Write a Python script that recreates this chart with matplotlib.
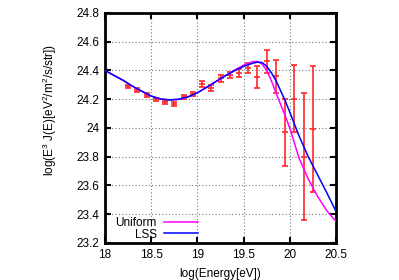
import numpy as np
import matplotlib
matplotlib.use("Agg")
import matplotlib.pyplot as plt
from matplotlib.ticker import FormatStrFormatter, MultipleLocator

plt.rcParams['font.family'] = ['Liberation Sans', 'DejaVu Sans']
plt.rcParams['mathtext.fontset'] = 'custom'
plt.rcParams['mathtext.rm'] = 'Liberation Sans'

# measured spectrum (log E, log E^3 J, error)
data_x = [18.25, 18.35, 18.45, 18.55, 18.65, 18.75, 18.85, 18.95, 19.05, 19.15,
          19.25, 19.35, 19.45, 19.55, 19.65, 19.75, 19.85, 19.95, 20.05, 20.15, 20.25]
data_y = [24.29, 24.265, 24.23, 24.2, 24.178, 24.165, 24.215, 24.235, 24.305, 24.28,
          24.345, 24.37, 24.385, 24.42, 24.355, 24.465, 24.36, 23.97, 24.205, 23.80, 23.99]
data_err = [0.012, 0.012, 0.012, 0.012, 0.012, 0.014, 0.014, 0.015, 0.022, 0.02,
            0.022, 0.022, 0.028, 0.035, 0.075, 0.08, 0.114, 0.232, 0.23, 0.44, 0.438]

# model curves
curve_x = [18.0, 18.1, 18.2, 18.3, 18.4, 18.5, 18.6, 18.7, 18.8, 18.9, 19.0, 19.1,
           19.2, 19.3, 19.4, 19.5, 19.6, 19.65, 19.7, 19.75, 19.8, 19.85, 19.9,
           19.95, 20.0, 20.1, 20.2, 20.3, 20.4, 20.5]
uniform_y = [24.40, 24.365, 24.33, 24.29, 24.255, 24.222, 24.202, 24.195, 24.2, 24.217,
             24.245, 24.283, 24.323, 24.364, 24.402, 24.437, 24.462, 24.463, 24.445,
             24.4, 24.33, 24.245, 24.165, 24.085, 24.0, 23.79, 23.645, 23.525, 23.425, 23.35]
lss_y = [24.40, 24.365, 24.33, 24.29, 24.255, 24.222, 24.202, 24.195, 24.2, 24.217,
         24.245, 24.283, 24.323, 24.362, 24.398, 24.428, 24.451, 24.458, 24.455,
         24.43, 24.385, 24.33, 24.26, 24.19, 24.11, 23.945, 23.8, 23.675, 23.55, 23.42]

fig = plt.figure(figsize=(3.99, 2.8), dpi=100)
ax = fig.add_axes([105 / 399, 1 - 243 / 280, 231 / 399, 230 / 280])

ax.errorbar(data_x, data_y, yerr=data_err, fmt='_', color='#ff2828', ms=4.5,
            mew=1.2, elinewidth=1.2, capsize=2.2, capthick=1.2, zorder=3)
ax.plot(curve_x, uniform_y, color='#ff00ff', lw=1.1, label='Uniform', zorder=4)
ax.plot(curve_x, lss_y, color='#0000ff', lw=1.1, label='LSS', zorder=5)

ax.set_xlim(18, 20.5)
ax.set_ylim(23.2, 24.8)
ax.xaxis.set_major_locator(MultipleLocator(0.5))
ax.yaxis.set_major_locator(MultipleLocator(0.2))
ax.xaxis.set_major_formatter(FormatStrFormatter('%g'))
ax.yaxis.set_major_formatter(FormatStrFormatter('%g'))
ax.tick_params(direction='in', top=True, right=True, length=4, width=1.5,
               labelsize=8.5, pad=4)
ax.grid(True, color='#777777', lw=0.8, ls=(0, (1, 2)))
for s in ax.spines.values():
    s.set_linewidth(2.0)

ax.set_xlabel('log(Energy[eV])', fontsize=8.5, labelpad=5)
ax.set_ylabel('log(E$^3$ J(E)[eV$^2$/m$^2$/s/str])', fontsize=8.5)
ax.yaxis.set_label_coords(-0.198, 0.58)

leg = ax.legend(loc='lower left', frameon=False, markerfirst=False, fontsize=8.5,
                handlelength=2.9, handletextpad=0.6, labelspacing=-0.05,
                borderaxespad=0.0, bbox_to_anchor=(0.025, -0.01))
for col in leg._legend_handle_box.get_children():
    col.align = 'right'

fig.savefig('out.png', dpi=100)
